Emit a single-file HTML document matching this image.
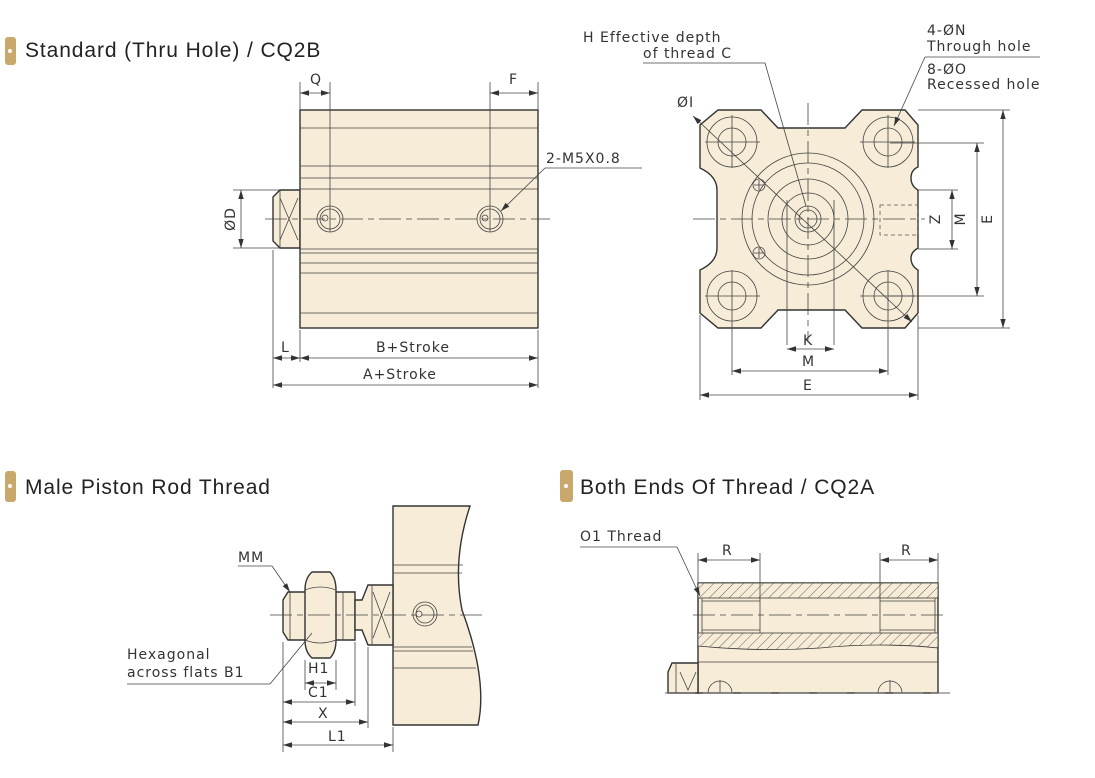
<!DOCTYPE html>
<html><head><meta charset="utf-8"><style>
html,body{margin:0;padding:0;background:#fff;}
svg{display:block;}
.t{font-family:"Liberation Sans",sans-serif;font-size:21px;fill:#222;letter-spacing:0.9px;}
.d{font-family:"DejaVu Sans",sans-serif;font-size:14px;fill:#333;letter-spacing:1px;}
.o{fill:#f6ecd7;stroke:#333;stroke-width:1.4;}
.l{fill:none;stroke:#444;stroke-width:0.8;}
.c{fill:none;stroke:#444;stroke-width:0.8;stroke-dasharray:22 5 6 5;}
.dim{fill:none;stroke:#444;stroke-width:0.8;marker-start:url(#a);marker-end:url(#a);}
.ld{fill:none;stroke:#444;stroke-width:0.8;marker-end:url(#a);}
</style></head><body>
<svg width="1095" height="778" viewBox="0 0 1095 778" xmlns="http://www.w3.org/2000/svg">
<defs>
<marker id="a" viewBox="0 0 10 10" refX="10" refY="5" markerWidth="9" markerHeight="9" orient="auto-start-reverse" markerUnits="userSpaceOnUse"><path d="M0,2 L10,5 L0,8 Z" fill="#333"/></marker>
<pattern id="h" width="7" height="7" patternUnits="userSpaceOnUse" patternTransform="rotate(45)"><rect width="7" height="7" fill="#f6ecd7"/><line x1="0" y1="0" x2="0" y2="7" stroke="#555" stroke-width="0.9"/></pattern>
</defs>

<!-- Titles -->
<rect x="5" y="37" width="11" height="28" rx="3" fill="#c9a96b"/><circle cx="10" cy="51" r="2" fill="#fff"/>
<text class="t" x="25" y="57">Standard (Thru Hole) / CQ2B</text>
<rect x="5" y="471" width="11" height="31" rx="3" fill="#c9a96b"/><circle cx="10" cy="486" r="2" fill="#fff"/>
<text class="t" x="25" y="494">Male Piston Rod Thread</text>
<rect x="560" y="470" width="13" height="32" rx="3" fill="#c9a96b"/><circle cx="566" cy="486" r="2" fill="#fff"/>
<text class="t" x="580" y="494">Both Ends Of Thread / CQ2A</text>

<!-- Section 1 side view -->
<path class="o" d="M280,190 L300,190 L300,248 L280,248 L273,241 L273,197 Z"/>
<line class="l" x1="280" y1="190" x2="280" y2="248"/>
<path class="l" d="M280,198 L298,240 M298,198 L280,240"/>
<rect class="o" x="300" y="110" width="238" height="218"/>
<path class="l" d="M300,128H538 M300,166H538 M300,178H538 M300,189H538 M300,249H538 M300,253H538 M300,263H538 M300,273H538 M300,313H538"/>
<line class="c" x1="265" y1="219" x2="550" y2="219"/>
<circle class="l" cx="330" cy="219" r="13"/><circle class="l" cx="330" cy="219" r="10"/><circle class="l" cx="325" cy="218" r="3"/>
<circle class="l" cx="490" cy="219" r="13"/><circle class="l" cx="490" cy="219" r="10"/><circle class="l" cx="485" cy="218" r="3"/>
<path class="l" d="M330,82V232 M490,82V232 M300,82V110 M538,82V110"/>
<line class="dim" x1="300" y1="93" x2="330" y2="93"/><text class="d" x="310" y="84">Q</text>
<line class="dim" x1="490" y1="93" x2="538" y2="93"/><text class="d" x="509" y="84">F</text>
<path class="l" d="M642,168H545"/><line class="ld" x1="545" y1="168" x2="501" y2="211"/>
<text class="d" x="546" y="163">2-M5X0.8</text>
<path class="l" d="M233,190H280 M233,248H280"/>
<line class="dim" x1="241" y1="190" x2="241" y2="248"/>
<text class="d" transform="translate(235,219) rotate(-90)" text-anchor="middle">ØD</text>
<path class="l" d="M273,250V388 M300,330V362 M538,330V388"/>
<line class="dim" x1="273" y1="358" x2="300" y2="358"/><text class="d" x="281" y="352">L</text>
<line class="dim" x1="300" y1="358" x2="538" y2="358"/><text class="d" x="376" y="352">B+Stroke</text>
<line class="dim" x1="273" y1="385" x2="538" y2="385"/><text class="d" x="363" y="379">A+Stroke</text>

<!-- Section 2 end view -->
<path class="o" d="M718,110 L761,110 L778,128 L845,128 L862,110 L905,110 L918,125 L918,167 Q911,170 911,178 Q911,186 918,190 L918,248 Q911,252 911,258 Q911,266 918,270 L918,313 L905,328 L862,328 L845,310 L778,310 L761,328 L718,328 L700,313 L700,270 Q717,262 717,248 L717,190 Q717,176 700,168 L700,125 Z"/>
<g class="l">
<circle cx="732" cy="142" r="25"/><circle cx="732" cy="142" r="14"/>
<circle cx="888" cy="142" r="25"/><circle cx="888" cy="142" r="14"/>
<circle cx="732" cy="296" r="25"/><circle cx="732" cy="296" r="14"/>
<circle cx="888" cy="296" r="25"/><circle cx="888" cy="296" r="14"/>
<circle cx="808" cy="219" r="66"/>
<circle cx="808" cy="219" r="56"/>
<circle cx="808" cy="219" r="40"/>
<circle cx="808" cy="219" r="26"/>
<circle cx="808" cy="219" r="13"/><circle cx="808" cy="219" r="9"/>
<circle cx="759" cy="185" r="6"/><circle cx="759" cy="253" r="6"/>
<path d="M754,185H764 M759,180V190 M754,253H764 M759,248V258"/>
<path d="M705,142H760 M732,115V168 M860,142H915 M888,115V168 M705,296H760 M732,270V322 M860,296H915 M888,270V322"/>
<path d="M787,200V345 M834,200V345" />
</g>
<rect x="880" y="205" width="38" height="30" fill="none" stroke="#555" stroke-width="0.8" stroke-dasharray="4 3"/>
<line class="c" x1="693" y1="219" x2="925" y2="219"/>
<line class="c" x1="808" y1="103" x2="808" y2="340"/>
<line class="dim" x1="693" y1="116" x2="912" y2="322"/>
<text class="d" x="677" y="107">ØI</text>
<path class="l" d="M643,63H765 L806,206"/>
<text class="d" x="583" y="42">H Effective depth</text>
<text class="d" x="643" y="58">of thread C</text>
<text class="d" x="927" y="35">4-ØN</text>
<text class="d" x="927" y="51">Through hole</text>
<path class="l" d="M1040,57H925"/><line class="ld" x1="925" y1="57" x2="894" y2="126"/>
<text class="d" x="927" y="74">8-ØO</text>
<text class="d" x="927" y="89">Recessed hole</text>
<path class="l" d="M918,190H958 M918,249H958 M890,143H984 M890,296H984 M918,110H1010 M918,328H1010"/>
<line class="dim" x1="952" y1="190" x2="952" y2="249"/>
<text class="d" transform="translate(940,219) rotate(-90)" text-anchor="middle">Z</text>
<line class="dim" x1="977" y1="143" x2="977" y2="296"/>
<text class="d" transform="translate(965,219) rotate(-90)" text-anchor="middle">M</text>
<line class="dim" x1="1003" y1="110" x2="1003" y2="328"/>
<text class="d" transform="translate(992,219) rotate(-90)" text-anchor="middle">E</text>
<path class="l" d="M732,322V375 M888,322V375 M700,315V400 M918,315V400"/>
<line class="dim" x1="787" y1="349" x2="834" y2="349"/><text class="d" x="803" y="345">K</text>
<line class="dim" x1="732" y1="371" x2="888" y2="371"/><text class="d" x="802" y="366">M</text>
<line class="dim" x1="700" y1="395" x2="918" y2="395"/><text class="d" x="803" y="390">E</text>

<!-- Section 3 -->
<path class="o" d="M393,506 L470,506 Q452,560 462,610 Q488,680 478,725 L393,725 Z"/>
<path class="l" d="M393,565H463 M393,573H462 M393,647H472 M393,651H473 M393,668H476"/>
<circle class="l" cx="425" cy="614" r="12"/><circle class="l" cx="425" cy="614" r="9"/><circle class="l" cx="419" cy="614" r="3"/>
<path class="o" d="M283,600 L288,592 L355,592 L355,640 L288,640 L283,632 Z"/>
<path class="o" d="M355,600 L362,600 L368,585 L393,585 L393,645 L368,645 L362,630 L355,630 Z"/>
<path class="l" d="M372,585V645 M373,592 L390,638 M390,592 L373,638 M290,592V640 M343,592V640"/>
<path class="o" d="M312,572 L330,572 Q336,578 336,590 L336,640 Q336,652 330,658 L312,658 Q305,652 305,640 L305,590 Q305,578 312,572 Z"/>
<path class="l" d="M305,590 Q320,584 336,590 M305,640 Q320,646 336,640"/>
<line class="c" x1="270" y1="615" x2="482" y2="615"/>
<text class="d" x="238" y="562">MM</text>
<path class="l" d="M238,566H272"/><line class="ld" x1="272" y1="566" x2="290" y2="592"/>
<text class="d" x="127" y="659">Hexagonal</text>
<text class="d" x="127" y="677">across flats B1</text>
<path class="l" d="M127,684H270 L312,633"/>
<path class="l" d="M283,642V752 M305,660V690 M336,660V690 M355,642V706 M368,647V728 M393,727V752"/>
<line class="dim" x1="305" y1="683" x2="336" y2="683"/><text class="d" x="308" y="673">H1</text>
<line class="dim" x1="283" y1="702" x2="355" y2="702"/><text class="d" x="308" y="697">C1</text>
<line class="dim" x1="283" y1="722" x2="368" y2="722"/><text class="d" x="318" y="718">X</text>
<line class="dim" x1="283" y1="745" x2="393" y2="745"/><text class="d" x="328" y="741">L1</text>

<!-- Section 4 -->
<rect class="o" x="698" y="583" width="240" height="110"/>
<path d="M698,583H938V598H698Z" fill="url(#h)" stroke="#333" stroke-width="0.8"/>
<path d="M698,633H938V648 Q880,642 820,648 Q760,652 698,646Z" fill="url(#h)" stroke="#333" stroke-width="0.8"/>
<path class="l" d="M698,662H938 M702,601H760 M702,630H760 M880,601H935 M880,630H935 M702,598V633 M760,598V633 M880,598V633 M935,598V633"/>
<path class="o" d="M672,663 L698,663 L698,693 L668,693 L668,672 Z"/>
<path class="l" d="M676,663V693 M680,672 L688,690 L696,672"/>
<path class="l" d="M708,693 A12,12 0 0 1 732,693 M720,680V693 M878,693 A12,12 0 0 1 902,693 M890,680V693"/>
<line class="c" x1="693" y1="615" x2="945" y2="615"/>
<line x1="665" y1="693" x2="950" y2="693" stroke="#666" stroke-width="1" stroke-dasharray="30 8"/>
<text class="d" x="580" y="541">O1 Thread</text>
<path class="l" d="M580,547H677"/><line class="ld" x1="677" y1="547" x2="700" y2="596"/>
<path class="l" d="M698,553V583 M760,553V598 M880,553V598 M938,553V583"/>
<line class="dim" x1="698" y1="560" x2="760" y2="560"/><text class="d" x="722" y="555">R</text>
<line class="dim" x1="880" y1="560" x2="938" y2="560"/><text class="d" x="901" y="555">R</text>
</svg>
</body></html>
